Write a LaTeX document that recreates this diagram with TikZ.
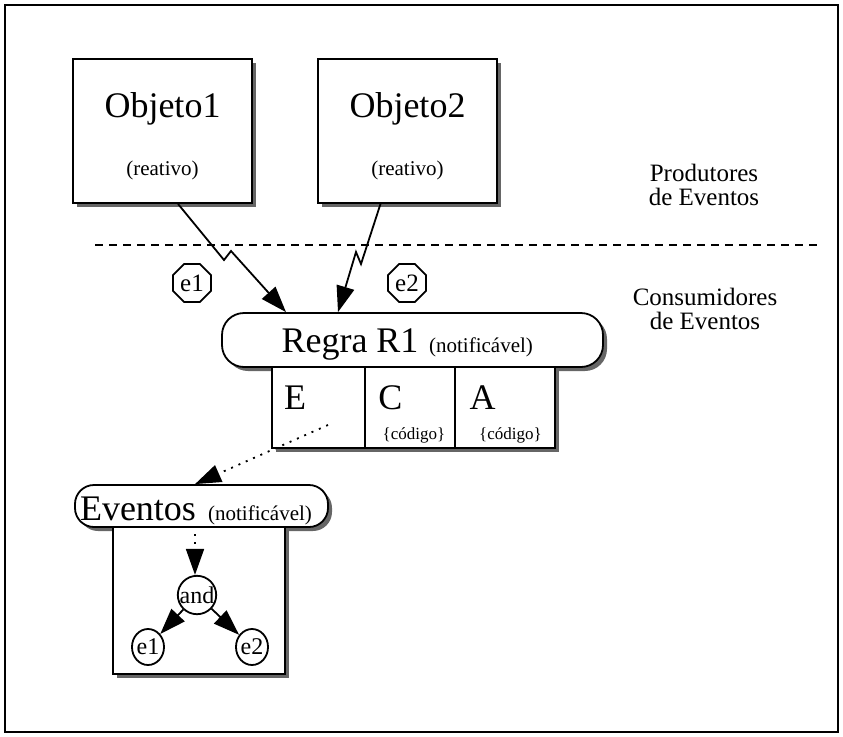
\documentclass[tikz,border=0pt]{standalone}
\usepackage{fontspec}
\setmainfont{Liberation Serif}
\usetikzlibrary{arrows.meta,shadows,shapes.geometric}
\begin{document}
\begin{tikzpicture}[x=1pt,y=-1pt,line width=1.8pt,
  big/.style={font=\fontsize{36}{40}\selectfont,inner sep=0pt,anchor=base},
  small/.style={font=\fontsize{21}{24}\selectfont,inner sep=0pt,anchor=base},
  code/.style={font=\fontsize{17}{20}\selectfont,inner sep=0pt,anchor=base},
  side/.style={font=\fontsize{25}{25}\selectfont,inner sep=0pt,anchor=base},
  boxshadow/.style={drop shadow={shadow xshift=4pt,shadow yshift=-4pt,fill=black!60,opacity=1}},
  objbox/.style={draw,fill=white,boxshadow,minimum width=179pt,minimum height=144pt,inner sep=0pt},
  pill/.style={draw,fill=white,boxshadow,rounded corners=22pt,inner sep=0pt},
  cell/.style={draw,fill=white,boxshadow,minimum height=81pt,inner sep=0pt},
  tip/.style={-{Triangle[length=26pt,width=18pt]}},
  dots/.style={dash pattern=on 2pt off 6pt},
  octo/.style={draw,regular polygon,regular polygon sides=8,minimum size=41pt,inner sep=0pt,
    font=\fontsize{25}{25}\selectfont},
  leaf/.style={draw,fill=white,ellipse,minimum width=32pt,minimum height=36pt,inner sep=0pt,
    font=\fontsize{24}{24}\selectfont},
]
\useasboundingbox (0,0) rectangle (843,736);
% outer frame
\draw[line width=2.2pt] (5,5) rectangle (838,732);

% event producers
\node[objbox] (o1) at (162.5,131) {};
\node[big] (o1t) at (162.5,117) {Objeto1};
\node[small] (o1r) at (162.5,175) {(reativo)};
\node[objbox] (o2) at (407.5,131) {};
\node[big] (o2t) at (407.5,117) {Objeto2};
\node[small] (o2r) at (407.5,175) {(reativo)};

\node[side] (prod1) at (704,181) {Produtores};
\node[side] (prod2) at (704,205) {de Eventos};

% separator between producers and consumers
\coordinate (sepL) at (95,245);
\coordinate (sepR) at (822,245);
\draw[dash pattern=on 8pt off 6pt] (sepL) -- (sepR);

\node[side] (cons1) at (705,305) {Consumidores};
\node[side] (cons2) at (705,329) {de Eventos};

% rule R1 with its E / C / A parts
\node[pill,minimum width=381pt,minimum height=54pt] (rg) at (412.5,340) {};
\node[big] (rgt) at (350,352) {Regra R1};
\node[small] (rgn) at (481,352) {(notificável)};
\node[cell,minimum width=93pt] (cE) at (318.5,407.5) {};
\node[cell,minimum width=90pt] (cC) at (410,407.5) {};
\node[cell,minimum width=100pt] (cA) at (505,407.5) {};
\node[big] (cEt) at (295,409) {E};
\node[big] (cCt) at (390.5,409) {C};
\node[big] (cAt) at (482.5,409) {A};
\node[code] (cCc) at (414,439) {\{código\}};
\node[code] (cAc) at (510.5,439) {\{código\}};

% events sent to the rule (lightning-style connectors)
\node[octo] (e1) at (192,283) {e1};
\node[octo] (e2) at (407,283) {e2};
\draw[tip] ([xshift=15.5pt]o1.south) -- (224,260) -- (231,251) -- ([xshift=-126.5pt]rg.north);
\draw[tip] ([xshift=-27pt]o2.south) -- (361,264) -- (356,252) -- ([xshift=-74.5pt]rg.north);

% composite event of the rule
\node[pill,minimum width=253pt,minimum height=42pt,rounded corners=19pt] (ev) at (201.5,506) {};
\node[draw,fill=white,boxshadow,minimum width=172pt,minimum height=147pt,inner sep=0pt] (evb) at (199,600.5) {};
\node[big] (evt) at (138,520) {Eventos};
\node[small] (evn) at (260,520) {(notificável)};
\draw[dots,tip] ([shift={(9.5,17.5)}]cE.center) -- ([xshift=-6.5pt]ev.north);

\node[leaf,circle,minimum size=34pt] (and) at (197,595) {and};
\node[leaf] (l1) at (148,647) {e1};
\node[leaf] (l2) at (252,647) {e2};
\draw[dots,tip] ([xshift=-4pt]evb.north) -- ([xshift=-2pt]and.north);
\draw[tip] (and) -- (l1);
\draw[tip] (and) -- (l2);
\end{tikzpicture}
\end{document}
